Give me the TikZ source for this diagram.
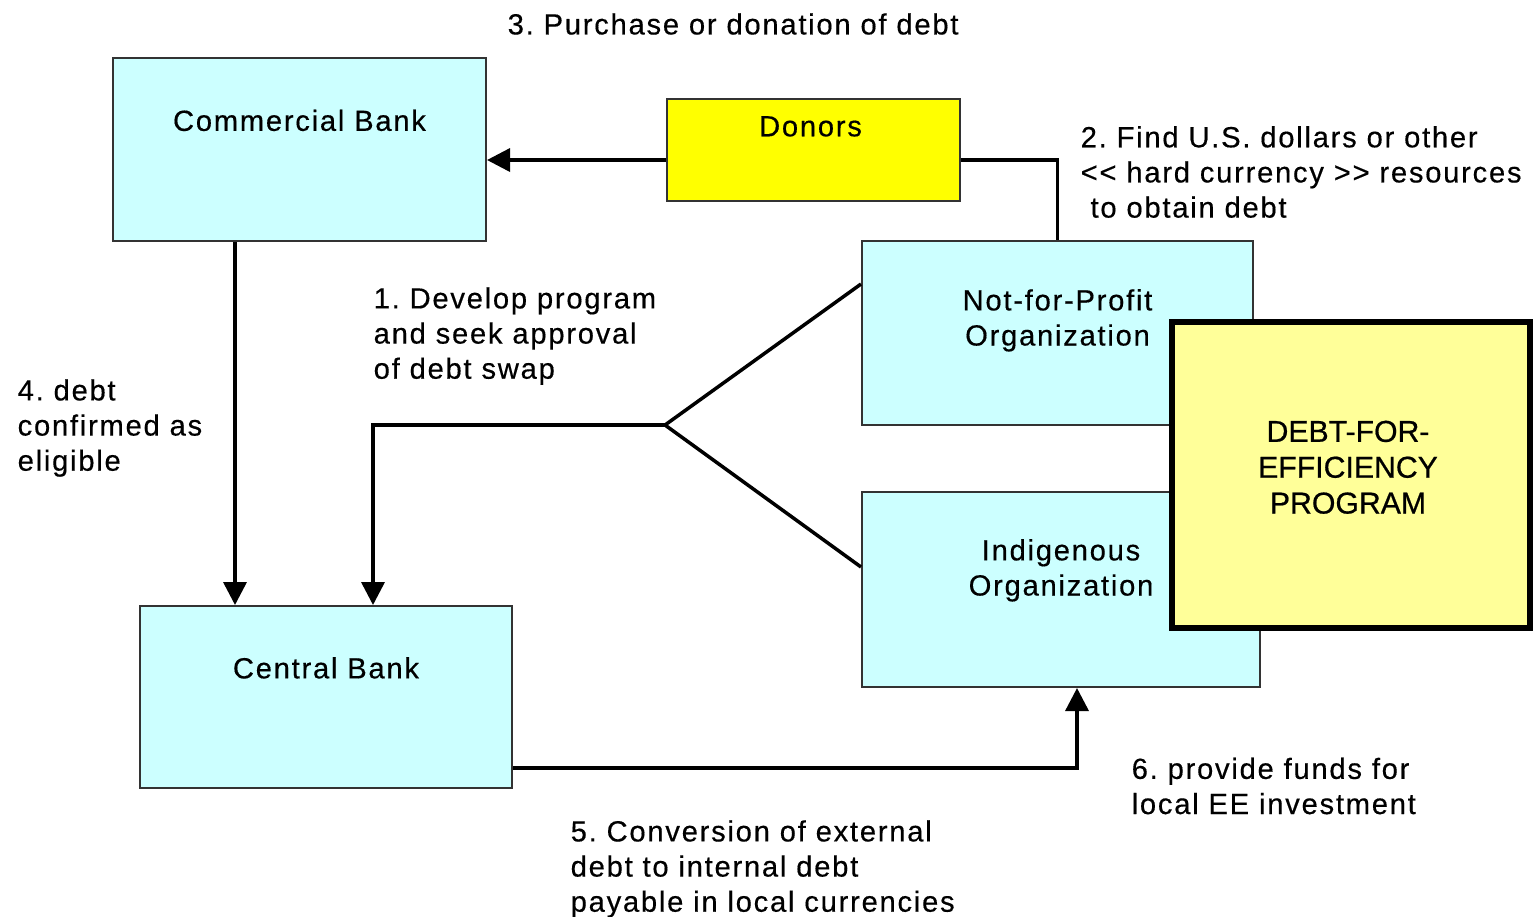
\documentclass[tikz,border=0pt]{standalone}
\usepackage{fontspec}
\setmainfont{Liberation Sans}[LetterSpace=6,FakeBold=0.4]
\usetikzlibrary{arrows.meta,positioning}
\definecolor{bankblue}{HTML}{CCFFFF}
\definecolor{donoryellow}{HTML}{FFFF00}
\definecolor{progyellow}{HTML}{FFFF99}
\definecolor{edgegray}{HTML}{333333}

\begin{document}
\begin{tikzpicture}[x=0.1mm,y=-0.1mm,>={Triangle[length=2.3mm,width=2.3mm]},
    every node/.style={font=\fontsize{8.3pt}{10pt}\selectfont\frenchspacing,inner sep=0pt},
    box/.style={draw=edgegray,line width=0.2mm,fill=bankblue},
    flow/.style={line width=0.35mm}]
                  \useasboundingbox[fill=white] (0,0) rectangle (1535,916);
                  % boxes
                  \node[box,minimum width=37.3mm,minimum height=18.3mm] (cb) at (299.5,149.5) {};
                  \node[box,fill=donoryellow,minimum width=29.3mm,minimum height=10.2mm] (donors) at (813.5,150) {};
                  \node[box,minimum width=39.1mm,minimum height=18.4mm] (nfp) at (1057.5,333) {};
                  \node[box,minimum width=39.8mm,minimum height=19.5mm] (ind) at (1061,589.5) {};
                  \node[box,minimum width=37.2mm,minimum height=18.2mm] (central) at (326,697) {};
                  \node[draw=black,line width=0.6mm,fill=progyellow,minimum width=35.8mm,minimum height=30.6mm] (debt) at (1351,475) {};
                  \node[below=5.2mm of cb.north] (cbtext) {Commercial Bank};
                  \node[below=1.75mm of donors.north,xshift=-0.3mm] (donorstext) {Donors};
                  \node[below=4.85mm of nfp.north,align=center] (nfptext) {Not-for-Profit\\Organization};
                  \node[below=4.75mm of ind.north,align=center] (indtext) {Indigenous\\Organization};
                  \node[below=5.15mm of central.north] (centraltext) {Central Bank};
                  \node[below=10.1mm of debt.north,xshift=-0.3mm,align=center,font=\fontsize{8.6pt}{10.2pt}\selectfont\addfontfeatures{LetterSpace=0,FakeBold=0.6}] (debttext) {DEBT-FOR-\\EFFICIENCY\\PROGRAM};
                  % connectors
                  \coordinate (fork) at (665,425);
                  \draw[flow,->] ([yshift=-1mm]donors.west) -- ([yshift=-1mm]donors.west -| cb.east);
                  \draw[flow] ([yshift=-1mm]donors.east) -| (nfp.north);
                  \draw[flow,->] ([xshift=-6.45mm]cb.south) -- ([xshift=-6.45mm]cb.south |- central.north);
                  \draw[flow] ([yshift=4.9mm]nfp.west) -- (fork) -- ([yshift=2.25mm]ind.west);
                  \draw[flow,->] (fork) -- ([xshift=4.7mm]central.north |- fork) -- ([xshift=4.7mm]central.north);
                  \draw[flow,->] ([yshift=-7.1mm]central.east) -| ([xshift=1.6mm]ind.south);
                  % step labels
                  \node[anchor=west] (step3) at (507,24) {3. Purchase or donation of debt};
                  \node[anchor=west,align=left] (step2) at (1080,172) {2. Find U.S. dollars or other\\{<}{<} hard currency {>}{>} resources\\ \ to obtain debt};
                  \node[anchor=west,align=left] (step1) at (373,336) {1. Develop program\\and seek approval\\of debt swap};
                  \node[anchor=west,align=left] (step4) at (17,428) {4. debt\\confirmed as\\eligible};
                  \node[anchor=west,align=left] (step5) at (570,869) {5. Conversion of external\\debt to internal debt\\payable in local currencies};
                  \node[anchor=west,align=left] (step6) at (1131,786) {6. provide funds for\\local EE investment};
              \end{tikzpicture}
\end{document}
